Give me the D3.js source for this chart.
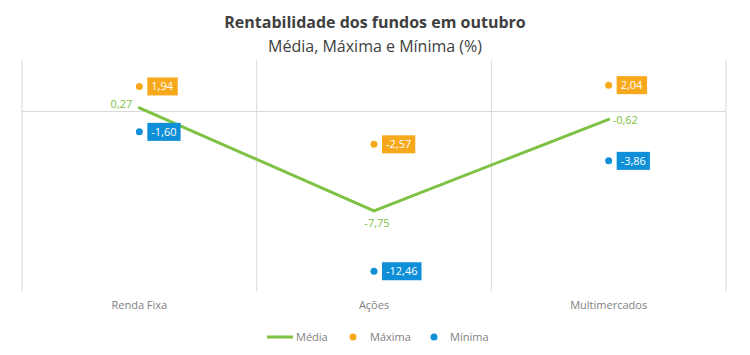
<!DOCTYPE html>
<html><head><meta charset="utf-8">
<script src="https://cdn.jsdelivr.net/npm/d3@7/dist/d3.min.js"></script>
<style>body{margin:0;background:#fff}svg{display:block;font-family:"Open Sans","Noto Sans",sans-serif}</style>
</head><body><svg id="c" width="750" height="355"></svg>
<script>
const categories = ["Renda Fixa", "Ações", "Multimercados"];
const media = [0.27, -7.75, -0.62];
const maxima = [1.94, -2.57, 2.04];
const minima = [-1.60, -12.46, -3.86];
const mediaLabelPos = ["left", "below", "right"];
const fmt = v => d3.format(".2f")(v).replace(".", ",").replace("−", "-");

const svg = d3.select("#c");
const W = 750, H = 355;
const m = {l: 22, r: 24, t: 60, b: 64};
const x = d3.scaleBand().domain(categories).range([m.l, W - m.r]);
const y = d3.scaleLinear().domain([-14, 4]).range([H - m.b, m.t]);
const cx = c => x(c) + x.bandwidth() / 2;
const green = "#7dc242", orange = "#f7a81b", blue = "#0f8fd8";

// title
svg.append("text").attr("x", 375).attr("y", 28).attr("text-anchor", "middle")
  .attr("font-size", 16).attr("font-weight", "bold").attr("fill", "#404040")
  .text("Rentabilidade dos fundos em outubro");
svg.append("text").attr("x", 375).attr("y", 52).attr("text-anchor", "middle")
  .attr("font-size", 16).attr("fill", "#404040")
  .text("Média, Máxima e Mínima (%)");

// vertical gridlines at category boundaries
const bounds = categories.map(c => x(c)).concat([x(categories[categories.length - 1]) + x.bandwidth()]);
svg.append("g").selectAll("line").data(bounds).join("line")
  .attr("x1", d => d).attr("x2", d => d).attr("y1", m.t).attr("y2", H - m.b)
  .attr("stroke", "#d9d9d9").attr("stroke-width", 1);
// zero line
svg.append("line").attr("x1", m.l).attr("x2", W - m.r).attr("y1", Math.round(y(0)) + 0.5).attr("y2", Math.round(y(0)) + 0.5)
  .attr("stroke", "#d9d9d9");

// x axis labels
const xAxis = d3.axisBottom(x).tickSize(0).tickPadding(10);
const gx = svg.append("g").attr("transform", `translate(0,${H - m.b})`).call(xAxis);
gx.select(".domain").remove();
gx.selectAll("text").attr("font-size", 11).attr("fill", "#7f7f7f").attr("font-family", "'Open Sans','Noto Sans',sans-serif");

// media line
const line = d3.line().x((d, i) => cx(categories[i])).y(d => y(d));
svg.append("path").datum(media).attr("d", line).attr("fill", "none")
  .attr("stroke", green).attr("stroke-width", 3).attr("stroke-linecap", "round");

// media labels
media.forEach((v, i) => {
  const px = cx(categories[i]), py = y(v);
  const pos = mediaLabelPos[i];
  const t = svg.append("text").attr("font-size", 11).attr("fill", green).text(fmt(v));
  if (pos === "left") t.attr("x", px - 7).attr("y", py).attr("text-anchor", "end");
  else if (pos === "below") t.attr("x", px + 3).attr("y", py + 16).attr("text-anchor", "middle");
  else t.attr("x", px + 4).attr("y", py + 5).attr("text-anchor", "start");
});

// dots with boxed labels
function dots(vals, color) {
  vals.forEach((v, i) => {
    const px = cx(categories[i]), py = y(v);
    svg.append("circle").attr("cx", px).attr("cy", py).attr("r", 3.5).attr("fill", color);
    const g = svg.append("g");
    const t = g.append("text").attr("x", px + 12).attr("y", py + 4).attr("font-size", 11)
      .attr("fill", "#fff").text(fmt(v));
    const bb = t.node().getBBox();
    g.insert("rect", "text").attr("x", bb.x - 4).attr("y", py - 9).attr("width", bb.width + 8)
      .attr("height", 18).attr("fill", color);
  });
}
dots(maxima, orange);
dots(minima, blue);

// legend
const lg = svg.append("g").attr("font-size", 11).attr("fill", "#7f7f7f");
lg.append("line").attr("x1", 267).attr("x2", 293).attr("y1", 337).attr("y2", 337).attr("stroke", green).attr("stroke-width", 3);
lg.append("text").attr("x", 296).attr("y", 341).text("Média");
lg.append("circle").attr("cx", 353).attr("cy", 337).attr("r", 3.5).attr("fill", orange);
lg.append("text").attr("x", 370).attr("y", 341).text("Máxima");
lg.append("circle").attr("cx", 434).attr("cy", 337).attr("r", 3.5).attr("fill", blue);
lg.append("text").attr("x", 450).attr("y", 341).text("Mínima");
</script></body></html>
